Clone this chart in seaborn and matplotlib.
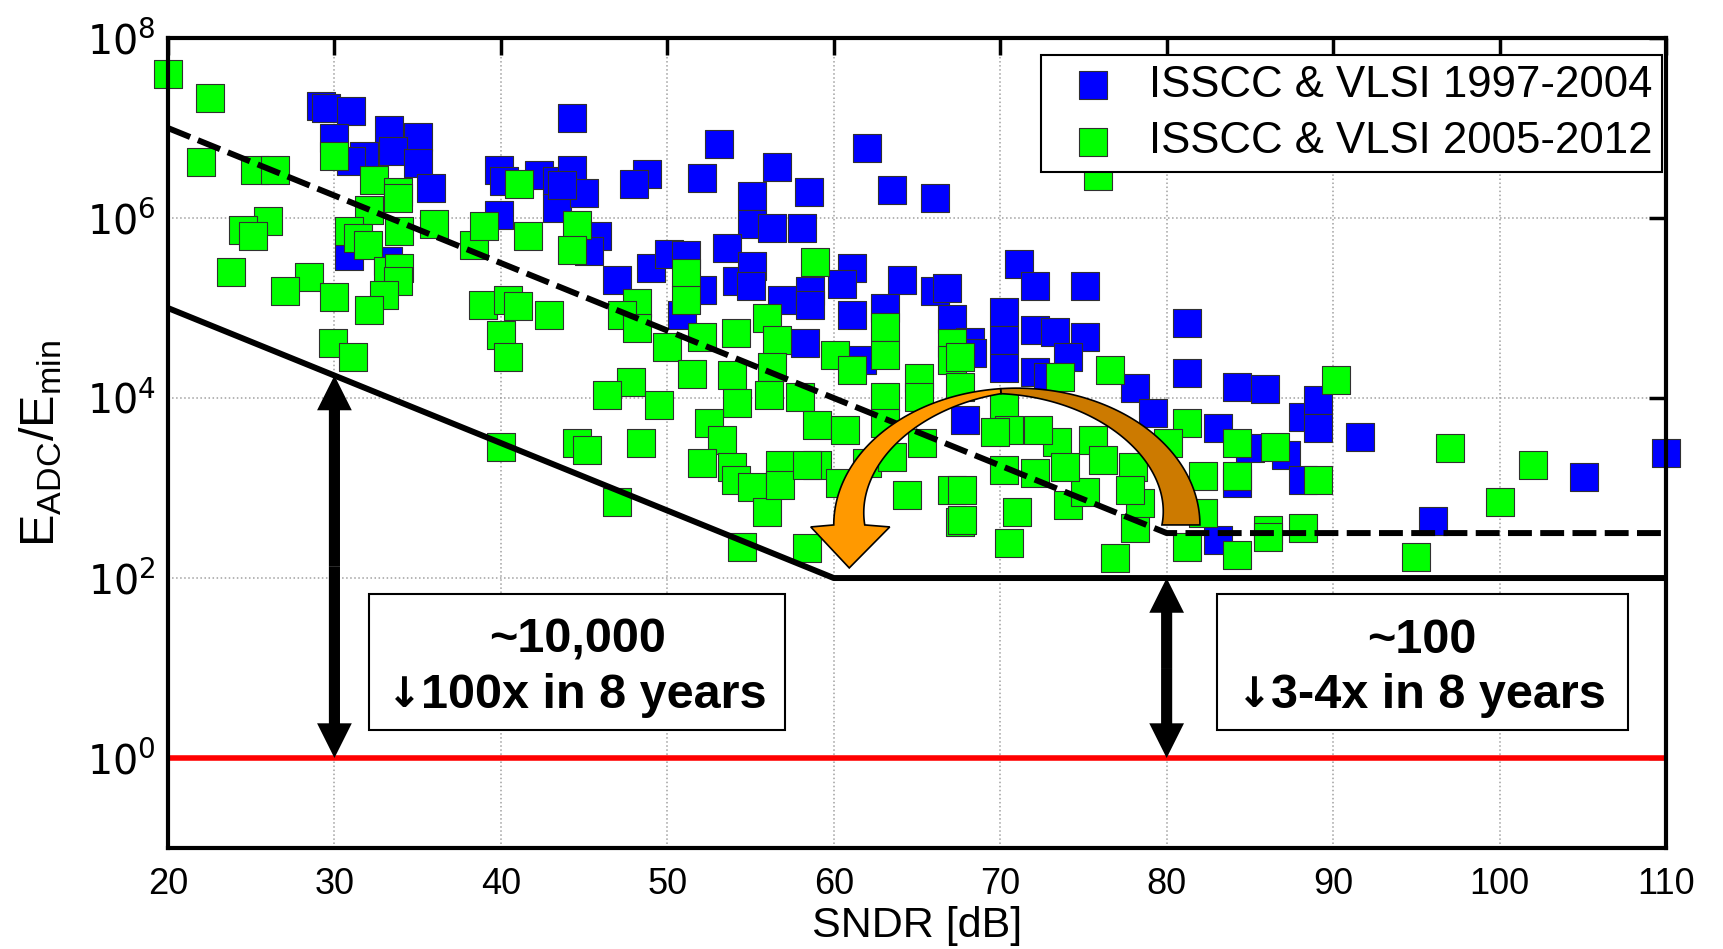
import numpy as np
import pandas as pd
import matplotlib
matplotlib.use("Agg")
import matplotlib.pyplot as plt
from matplotlib.patches import Rectangle
from matplotlib.ticker import NullLocator
from matplotlib.transforms import offset_copy
import seaborn as sns

# ISSCC & VLSI 1997-2004 : SNDR [dB] and log10(E_ADC/E_min)
old_sndr = [29.2, 29.5, 31.0, 30.0, 33.3, 35.0, 33.5, 31.8, 31.0, 35.0, 35.8, 39.9, 40.2, 42.3, 43.4,
            43.4, 39.9, 30.9, 33.2, 44.3, 44.3, 45.0, 43.7, 48.8, 48.0, 53.1, 52.1, 56.6, 58.5, 55.1,
            55.1, 56.3, 58.1, 62.0, 63.5, 66.1, 45.8, 45.3, 47.0, 49.0, 50.1, 51.1, 52.1, 53.6, 54.2,
            55.1, 55.0, 56.9, 58.6, 58.6, 61.1, 60.5, 64.1, 66.1, 66.8, 63.1, 61.1, 71.1, 72.1, 75.1,
            81.2, 50.9, 58.3, 61.7, 67.1, 70.2, 70.2, 70.2, 72.1, 73.3, 75.1, 74.1, 72.1, 78.1, 79.2,
            84.2, 85.9, 88.2, 89.1, 89.1, 91.6, 83.1, 85.0, 87.2, 88.2, 84.2, 83.1, 68.2, 72.9, 81.2,
            68.3, 67.9, 96.0, 105.1, 110.0]
old_log_e = [7.24, 7.22, 7.19, 6.89, 6.98, 6.90, 6.74, 6.69, 6.63, 6.61, 6.33, 6.53, 6.41, 6.48, 6.41,
             6.11, 6.03, 5.58, 5.52, 7.11, 6.53, 6.28, 6.37, 6.49, 6.38, 6.82, 6.44, 6.57, 6.29, 6.24,
             5.93, 5.89, 5.89, 6.78, 6.31, 6.22, 5.80, 5.63, 5.31, 5.44, 5.60, 5.59, 5.20, 5.67, 5.30,
             5.47, 5.24, 5.09, 5.19, 5.03, 5.44, 5.27, 5.31, 5.19, 5.22, 5.00, 4.92, 5.49, 5.25, 5.25,
             4.83, 4.92, 4.61, 4.42, 4.88, 4.96, 4.64, 4.33, 4.76, 4.73, 4.68, 4.46, 4.29, 4.11, 3.83,
             4.12, 4.10, 3.79, 3.98, 3.67, 3.57, 3.67, 3.44, 3.37, 3.09, 3.06, 2.42, 4.62, 4.23, 4.28,
             4.50, 3.76, 2.63, 3.12, 3.39]

# ISSCC & VLSI 2005-2012
new_sndr = [20.0, 22.5, 22.0, 25.2, 26.4, 30.0, 32.4, 33.8, 33.8, 32.1, 36.0, 38.4, 39.0, 41.1, 41.6,
            26.0, 24.5, 25.1, 30.9, 31.4, 32.0, 33.9, 23.8, 28.5, 27.0, 30.0, 33.2, 33.9, 33.8, 33.0,
            32.1, 38.9, 40.4, 41.0, 42.9, 29.9, 31.1, 40.0, 40.4, 40.0, 44.6, 44.3, 51.1, 51.1, 58.9,
            48.2, 47.3, 48.2, 50.0, 52.1, 54.1, 56.0, 56.6, 51.5, 53.9, 56.3, 56.1, 54.2, 52.5, 47.8,
            46.4, 49.5, 44.6, 45.2, 48.4, 47.0, 54.5, 58.4, 53.3, 52.1, 53.9, 54.1, 55.1, 56.0, 56.8,
            56.8, 59.0, 58.4, 58.0, 59.0, 60.7, 60.1, 61.1, 63.1, 63.1, 63.1, 63.1, 65.1, 65.1, 67.1,
            67.1, 67.6, 62.0, 60.4, 64.4, 67.6, 67.1, 63.5, 65.3, 90.2, 81.2, 84.2, 86.5, 89.1, 84.2,
            82.2, 82.2, 81.2, 84.2, 86.1, 86.1, 88.2, 76.9, 70.5, 71.0, 74.1, 75.1, 78.1, 78.4, 76.6,
            73.6, 70.2, 70.5, 72.1, 70.2, 73.4, 73.9, 75.6, 76.2, 72.3, 69.7, 67.7, 67.7, 67.6, 78.0,
            80.1, 77.8, 97.0, 95.0, 100.0, 102.0, 75.9]
new_log_e = [7.60, 7.33, 6.62, 6.53, 6.53, 6.69, 6.42, 6.29, 6.22, 6.09, 5.93, 5.70, 5.91, 6.38, 5.80,
             5.97, 5.87, 5.80, 5.86, 5.78, 5.70, 5.86, 5.40, 5.34, 5.19, 5.12, 5.41, 5.44, 5.30, 5.14,
             4.98, 5.03, 5.09, 5.02, 4.92, 4.61, 4.46, 4.70, 4.46, 3.46, 5.92, 5.64, 5.39, 5.09, 5.51,
             5.06, 4.92, 4.78, 4.57, 4.68, 4.72, 4.89, 4.64, 4.27, 4.26, 4.34, 4.03, 3.94, 3.72, 4.18,
             4.03, 3.92, 3.50, 3.42, 3.50, 2.84, 2.34, 2.33, 3.53, 3.28, 3.23, 3.09, 3.01, 2.73, 3.26,
             3.03, 3.26, 3.26, 4.01, 3.70, 3.64, 4.48, 4.31, 4.79, 4.48, 4.01, 3.72, 4.22, 4.01, 4.61,
             4.42, 4.12, 3.28, 3.06, 2.92, 2.62, 2.98, 3.34, 3.50, 4.20, 3.72, 3.50, 3.46, 3.09, 3.13,
             3.13, 2.72, 2.34, 2.26, 2.53, 2.46, 2.56, 2.22, 2.39, 2.73, 2.81, 2.96, 2.56, 2.83, 4.31,
             4.23, 3.90, 3.64, 3.17, 3.20, 3.51, 3.23, 3.53, 3.31, 3.64, 3.62, 2.98, 2.64, 4.46, 3.23,
             3.50, 2.98, 3.44, 2.23, 2.85, 3.26, 6.47]

old_label = "ISSCC & VLSI 1997-2004"
new_label = "ISSCC & VLSI 2005-2012"

# bounds drawn in the figure
old_bound_x = [20, 80, 110]
old_bound_y = [1e7, 316, 316]
new_bound_x = [20, 60, 110]
new_bound_y = [1e5, 100, 100]
limit_y = 1.0

box_titles = ["~10,000", "~100"]
box_notes = ["100x in 8 years", "3-4x in 8 years"]

sns.set_style("white")
plt.rcParams["font.family"] = ["Liberation Sans", "DejaVu Sans"]
plt.rcParams["mathtext.fontset"] = "custom"
plt.rcParams["mathtext.rm"] = "Liberation Sans"
plt.rcParams["mathtext.it"] = "Liberation Sans:italic"
plt.rcParams["mathtext.bf"] = "Liberation Sans:bold"
for key in ("text.color", "axes.labelcolor", "xtick.color", "ytick.color"):
    plt.rcParams[key] = "black"

fig = plt.figure(figsize=(17.23, 9.49), dpi=100)
ax = fig.add_axes([0.0975, 0.1064, 0.8694, 0.8535])
ax.set_yscale("log")
ax.set_xlim(20, 110)
ax.set_ylim(1e-1, 1e8)

old = pd.DataFrame({"sndr": old_sndr, "e": 10 ** np.array(old_log_e)})
new = pd.DataFrame({"sndr": new_sndr, "e": 10 ** np.array(new_log_e)})

sns.scatterplot(data=old, x="sndr", y="e", marker="s", s=400, color="#0000ff",
                edgecolor="#303030", linewidth=0.8, label=old_label, ax=ax,
                clip_on=False, zorder=3)
sns.scatterplot(data=new, x="sndr", y="e", marker="s", s=400, color="#00ff00",
                edgecolor="#303030", linewidth=0.8, label=new_label, ax=ax,
                clip_on=False, zorder=3)

ax.plot(old_bound_x, old_bound_y, color="black", lw=4.3, ls=(0, (4, 1.4)), zorder=4,
        solid_capstyle="butt")
ax.plot(new_bound_x, new_bound_y, color="black", lw=4.3, zorder=4)
ax.axhline(limit_y, color="#ff0000", lw=4, zorder=4)

# grid / ticks in matlab style
ax.set_xticks(range(20, 111, 10))
ax.set_yticks([1e0, 1e2, 1e4, 1e6, 1e8])
ax.yaxis.set_minor_locator(NullLocator())
ax.grid(True, color="#a0a0a0", ls=":", lw=1.1)
ax.set_axisbelow(True)
ax.tick_params(direction="in", length=12, width=2.5, top=True, right=True,
               labelsize=26, colors="black")
ax.tick_params(axis="x", pad=14)
ax.tick_params(axis="y", pad=9, labelsize=28.5)
for lab in ax.get_yticklabels():
    lab.set_math_fontfamily("dejavusans")
    lab.set_family("DejaVu Sans")
for sp in ax.spines.values():
    sp.set_linewidth(3)
    sp.set_color("black")
    sp.set_zorder(8)

ax.set_xlabel("SNDR [dB]", fontsize=31, color="black")
ax.set_ylabel(r"$\mathregular{E_{ADC}/E_{min}}$", fontsize=35, color="black")
ax.xaxis.set_label_coords(0.5, -0.072)
ax.yaxis.set_label_coords(-0.069, 0.5)


# double headed black arrows
def double_arrow(x, y0, y1):
    ym = np.sqrt(y0 * y1)
    for end in (y0, y1):
        ax.annotate("", xy=(x, end), xytext=(x, ym),
                    arrowprops=dict(arrowstyle="simple,head_length=25,head_width=25,tail_width=8",
                                    mutation_scale=1, color="black", lw=0,
                                    shrinkA=0, shrinkB=0), zorder=6)


double_arrow(30, limit_y, 1e5 / 10 ** 0.75)
double_arrow(80, limit_y, 100)

# text boxes
renderer = fig.canvas.get_renderer()
for (x0, x1), title, note in zip([(32.1, 57.1), (83.0, 107.7)], box_titles, box_notes):
    ax.add_patch(Rectangle((x0, 10 ** 0.31), x1 - x0, 10 ** 1.82 - 10 ** 0.31,
                           fc="white", ec="black", lw=1.5, zorder=5))
    xc = (x0 + x1) / 2
    ax.text(xc, 10 ** 1.31, title, ha="center", va="center", fontsize=35,
            fontweight="bold", color="black", zorder=6)
    t_note = ax.text(xc, 10 ** 0.70, note, ha="center", va="center", fontsize=35,
                     fontweight="bold", color="black", zorder=6)
    t_arr = ax.text(xc, 10 ** 0.70, "\u2193", ha="center", va="center", fontsize=30,
                    fontweight="bold", family="DejaVu Sans", color="black", zorder=6)
    w_note = t_note.get_window_extent(renderer).width
    w_arr = t_arr.get_window_extent(renderer).width * 0.92
    t_note.set_transform(offset_copy(ax.transData, fig=fig, x=w_arr / 2, units="dots"))
    t_arr.set_transform(offset_copy(ax.transData, fig=fig, x=-w_note / 2, units="dots"))


# curved orange arrow (twisted ribbon)
def ribbon_arrow():
    T = ax.transData
    inv = T.inverted()
    c = T.transform((71.0, 10 ** 2.59))
    a = T.transform((82.0, 10 ** 2.59))[0] - c[0]
    b = T.transform((71.0, 10 ** 4.11))[1] - c[1]
    pa = 1.66

    def edge(phi, w):
        outer = np.column_stack([c[0] + a * np.cos(phi), c[1] + b * np.sin(phi)])
        inner = np.column_stack([c[0] + (a - w) * np.cos(phi), c[1] + (b - w) * np.sin(phi)])
        return outer, inner

    phi = np.linspace(0, pa, 80)
    w = 38 + (5 - 38) * phi / pa
    o, i = edge(phi, w)
    dark = np.vstack([o, i[::-1]])

    phi = np.linspace(pa, np.pi, 80)
    w = 5 + (31 - 5) * (phi - pa) / (np.pi - pa)
    o, i = edge(phi, w)
    ox, oy = o[-1]
    ix = i[-1][0]
    head = np.array([[ox - 23, oy - 2], [(ox + ix) / 2, oy - 43], [ix + 25, oy - 2]])
    light = np.vstack([o, head, i[::-1]])

    for poly, col in ((dark, "#cc7a00"), (light, "#ff9900")):
        d = inv.transform(poly)
        ax.fill(d[:, 0], d[:, 1], fc=col, ec="black", lw=1.2, zorder=7)


ribbon_arrow()

leg = ax.legend(loc="upper right", bbox_to_anchor=(0.9973, 0.979), borderaxespad=0,
                fontsize=31.5, frameon=True, fancybox=False, edgecolor="black", framealpha=1,
                handlelength=1.95, handletextpad=0.3, borderpad=0.22, labelspacing=0.36)
leg.get_frame().set_linewidth(1.5)
leg.set_zorder(10)
for t in leg.get_texts():
    t.set_color("black")

fig.savefig("out.png", dpi=100)
